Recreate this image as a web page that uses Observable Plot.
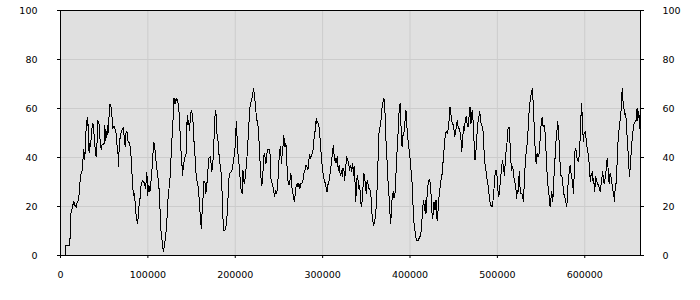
<!DOCTYPE html>
<html>
<head>
<meta charset="utf-8">
<script src="https://cdn.jsdelivr.net/npm/d3@7"></script>
<script src="https://cdn.jsdelivr.net/npm/@observablehq/plot@0.6"></script>
<style>
  html, body { margin: 0; padding: 0; background: #ffffff; }
  #chart { width: 700px; height: 300px; }
</style>
</head>
<body>
<div id="chart"></div>
<script>
const xTicks = [0, 100000, 200000, 300000, 400000, 500000, 600000];
const yTicks = [0, 20, 40, 60, 80, 100];
const xMax = 663800;

const xs = [
  5300, 6100, 9900, 10300, 11100, 11500, 12600, 14100, 15300, 16400, 17900, 18700, 20200, 21400, 22100, 23300, 24400, 25600, 26700, 27500,
  28200, 29000, 29800, 30500, 31300, 32100, 32800, 33600, 34400, 35100, 36300, 37000, 37800, 38600, 39700, 40800, 42000, 42700, 43900, 44700,
  45400, 46600, 47700, 48900, 50000, 50800, 51500, 52300, 53100, 53800, 54600, 55300, 56500, 57600, 58800, 59900, 61100, 62200, 63400, 64500,
  65700, 66400, 67200, 68300, 69500, 70600, 71800, 72900, 74000, 74800, 76000, 76700, 77900, 79000, 80200, 81300, 82400, 83600, 84700, 85900,
  87000, 88200, 88900, 90100, 90800, 91600, 92800, 93900, 95000, 96200, 97300, 98100, 98900, 99600, 100400, 101200, 102300, 103100, 104200, 105300,
  106100, 106900, 107600, 108800, 109900, 111100, 112200, 113400, 114500, 115700, 116800, 117900, 118700, 119500, 120600, 121800, 122900, 124000, 125200, 126300,
  127500, 128600, 129400, 130200, 130900, 131700, 132800, 134000, 135100, 136300, 137400, 138600, 139700, 140500, 141600, 142800, 143900, 145000, 145800, 146600,
  147700, 148900, 150000, 151200, 151900, 153100, 154200, 155300, 156500, 157600, 158800, 159900, 161100, 161800, 163000, 164100, 165300, 166400, 167200, 168300,
  169500, 170600, 171800, 172900, 174000, 174800, 176000, 177100, 178300, 179000, 180200, 181300, 182500, 183600, 184700, 185900, 187000, 188200, 189300, 190500,
  191600, 192800, 193900,
  196200, 198100, 199600, 200800, 201500, 202300, 203400, 204600, 205700, 206900, 208000, 208800, 209900, 210700, 211800, 213000, 214100, 215300, 216400, 217600,
  218700, 219800, 221000, 222100, 223300, 224400, 225600, 226700, 227900, 229000, 230200, 231300, 232400, 233200, 234400, 235100, 236300, 237400, 238600, 239700,
  240500, 241600, 242800, 243900, 245000, 246200, 247300, 248500, 249600, 250800, 251900, 252700, 253400, 254600, 255300, 256100, 256900, 258000, 259200, 260300,
  261500, 262600, 263700, 264500, 265700, 266800, 267600, 268700, 269800, 271000, 271800, 272900, 274000, 275200, 276300, 277500, 278600, 279800, 280900, 282100,
  283200, 284000, 285100, 286300, 287400, 288600, 289300, 290500, 291600, 292700, 293500, 294300, 295400, 296600, 297300, 298500, 299600, 300800, 301900, 303100,
  304200, 305000, 305700, 306900, 308000, 308800, 309900, 311100, 312200, 313000, 313700, 314500, 315300, 316000, 316800, 317900, 319100, 319900, 320600, 321800,
  322500, 323300, 324400, 325200, 326300, 327500, 328600, 329800, 330900, 332100, 333200, 334400, 335500, 336300, 337000, 337800, 338600, 339300, 340100, 341200,
  342400, 343100, 343900, 344700, 345800, 346600, 347300, 348100, 349200, 350000, 350800, 351500, 352300, 353100, 354200, 355400, 356100, 357300, 358400, 359500,
  360700, 361800, 362600, 363400, 364500, 365700, 366800, 367600, 368700, 369900, 370600, 371400, 372100, 372900, 373700, 374800, 375600, 376300, 377100, 377900,
  378600, 379400, 380200, 380900, 381700, 382800, 383600, 384700, 385500, 386600, 387400, 388600, 389300, 390100, 390900, 391600, 392800, 393900, 394700, 395400,
  396200, 397300, 398500, 399600, 400800, 401900, 403100, 403800, 405000, 406100, 407300, 409600, 410700, 411800, 413000, 414100, 415300, 416000, 416800, 417600,
  418300, 419100, 419900, 420600, 421400, 422200, 422900, 423700, 424400, 425200, 426000, 426700, 427500, 428600, 429800, 430500, 431300, 432100, 432800, 433600,
  434700, 435900, 437000, 438200, 439300, 440500, 441600, 442800, 443900, 445100, 445800, 446600, 447700, 448900, 450000, 451200, 452300, 453100, 454200, 455000,
  456100,
  457300, 458400, 459200, 460300, 461100, 462200, 463400, 464500, 465300, 466400, 467600, 468700, 469800, 470600, 471400, 472100, 472900, 473700, 474400, 475200,
  475900, 476700, 477500, 478600, 479800, 480900, 481700, 482800, 484000, 485100, 486300, 487400, 488500, 489700, 490800, 492000, 494300, 495400, 496600, 497700,
  498900, 500000, 501100, 502300, 503400, 504600, 505700, 506900, 508000, 509200, 509900, 511100, 512200, 513400, 514500, 515300, 516400, 517600, 518700, 519900,
  521000, 522100, 522900, 523700, 524400, 525200, 525900, 526700, 527900, 529000, 529800, 530900, 532100, 533200, 534400, 535500, 536600, 537800, 538900, 540100,
  540800, 542000, 543100, 544300, 545400, 546600, 547700, 548900, 550000, 551200, 552300, 553100, 553800, 555000, 556100, 557300, 558400, 559500, 560300, 561100,
  562200, 563400, 564500, 565700, 566800, 567900, 569100, 570200, 571400, 572500, 573700, 574800, 575900, 577100, 578300, 579400, 580200, 580900, 582100, 583200,
  584000, 585100, 586300, 587000, 587800, 588600, 589700, 590900, 591600, 592800, 593900, 595000, 596200, 597000, 597700, 598500, 599200, 600400, 601200, 601900,
  602700, 603800, 605000, 605700, 606500, 607300, 608000, 608800, 609600, 610300, 611100, 611800, 612600, 613800, 614500, 615700, 616800, 617600, 618300, 619500,
  620200, 621400, 622100, 623300, 624100, 624800, 625600, 626300, 627100, 627900, 629000, 629800, 630900, 632100, 633200, 634000, 634700, 635500, 636300, 637000,
  637800, 638600, 639700, 640500, 641600, 642400, 643100, 643900, 644700, 645400, 646200, 647000, 647700, 648500, 649300, 650000, 651200, 651900, 652700, 653400,
  654600, 655700, 656500, 657600, 658800, 659900, 660700, 661500, 662200, 663000, 663800
];

const ys = [
  0, 4.1, 4.1, 6.8, 6.8, 16.7, 18.2, 20.5, 22.2, 20.5, 19.6, 21.2, 22.2, 25.3, 29.4, 33.2, 33.5, 38.9, 43.3, 39.2,
  42.2, 49.1, 55.2, 53.2, 56.3, 45.7, 41.9, 45.7, 44.4, 47.8, 53.2, 54.1, 52.5, 48.4, 43.3, 40.3, 47.1, 55.0, 54.4, 50.5,
  46.4, 43.3, 45.4, 45.4, 45.7, 53.1, 47.1, 50.5, 48.2, 53.1, 50.1, 55.2, 61.8, 61.4, 57.3, 51.8, 52.8, 51.8, 50.5, 45.7,
  42.3, 36.5, 44.4, 48.4, 50.5, 51.2, 52.2, 48.4, 44.6, 49.8, 50.9, 47.1, 46.3, 46.0, 43.0, 37.6, 29.1, 24.6, 25.3, 18.8,
  15.1, 13.1, 15.8, 21.5, 21.9, 27.3, 29.4, 30.7, 30.1, 29.4, 27.3, 30.7, 34.1, 24.6, 26.7, 28.7, 26.0, 28.7, 32.1, 38.9,
  43.0, 46.0, 45.4, 40.3, 36.2, 33.5, 29.1, 25.3, 11.4, 8.3, 3.5, 1.5, 3.8, 5.6, 9.0, 14.4, 22.6, 26.7, 30.7, 38.2,
  47.1, 52.8, 64.1, 62.0, 64.1, 62.0, 64.1, 63.4, 61.0, 55.2, 45.0, 39.6, 32.8, 36.2, 38.9, 40.5, 41.6, 57.3, 53.2, 55.2,
  51.2, 58.0, 59.0, 57.3, 53.2, 44.4, 39.6, 32.1, 30.1, 28.0, 22.6, 16.5, 11.0, 15.8, 22.9, 30.1, 30.1, 25.3, 28.0, 32.1,
  39.6, 40.0, 40.3, 34.1, 36.2, 40.3, 49.8, 59.3, 57.3, 49.8, 47.1, 41.6, 37.6, 34.8, 28.0, 15.1, 10.3, 10.3, 11.7, 15.8,
  22.6, 31.4, 33.5,
  34.8, 38.9, 43.0, 51.8, 54.6, 45.7, 40.3, 36.2, 30.7, 26.0, 25.3, 34.8, 30.1, 29.4, 33.5, 37.6, 44.4, 51.2, 59.3, 62.0,
  63.4, 65.4, 68.2, 64.8, 60.7, 55.2, 55.2, 49.8, 42.3, 33.5, 28.7, 30.1, 40.3, 41.6, 39.6, 37.6, 41.6, 43.3, 43.3, 42.3,
  32.1, 30.1, 28.7, 26.7, 23.9, 26.7, 25.3, 28.0, 36.2, 43.0, 44.4, 37.6, 40.3, 44.4, 49.1, 47.1, 44.4, 45.7, 36.9, 30.7,
  28.7, 30.7, 33.5, 28.7, 26.0, 23.3, 21.9, 25.3, 28.7, 29.4, 28.0, 29.4, 27.3, 29.4, 29.4, 30.7, 33.5, 34.8, 36.9, 36.2,
  34.8, 38.2, 41.4, 39.6, 41.4, 41.6, 44.4, 49.1, 51.2, 55.9, 53.9, 54.6, 53.2, 51.2, 45.7, 41.0, 36.2, 32.8, 30.7, 29.4,
  27.3, 26.0, 28.7, 29.4, 32.1, 34.1, 37.6, 41.6, 45.0, 41.6, 38.9, 39.6, 37.6, 38.9, 40.3, 34.8, 36.9, 33.5, 32.8, 34.8,
  32.1, 35.5, 34.8, 30.7, 35.5, 40.3, 38.9, 37.6, 34.8, 36.9, 34.1, 37.6, 32.8, 36.2, 30.7, 21.9, 26.7, 31.4, 32.8, 27.3,
  28.7, 25.3, 21.2, 19.9, 25.3, 30.1, 33.5, 32.1, 28.0, 25.3, 30.1, 30.7, 28.0, 27.3, 26.7, 23.9, 18.5, 14.4, 12.4, 13.7,
  17.1, 21.9, 30.7, 38.9, 49.8, 52.5, 55.2, 59.3, 62.0, 64.1, 63.4, 58.0, 49.8, 44.4, 38.9, 30.7, 26.7, 22.6, 17.1, 13.1,
  17.1, 22.6, 24.6, 26.0, 23.3, 25.3, 31.4, 37.6, 45.7, 51.2, 58.0, 62.0, 56.6, 49.8, 44.4, 49.1, 49.1, 53.2, 56.6, 59.3,
  53.9, 48.4, 44.4, 41.6, 36.2, 32.1, 25.3, 15.8, 11.7, 9.0, 6.3, 6.3, 7.3, 7.9, 10.3, 17.1, 22.6, 21.2, 18.5, 22.6,
  17.1, 22.6, 25.3, 28.7, 30.7, 31.0, 30.1, 28.0, 22.6, 17.1, 15.1, 18.5, 21.9, 18.5, 22.6, 15.1, 14.4, 18.5, 22.6, 25.3,
  28.7, 32.1, 33.5, 40.3, 44.4, 49.8, 50.5, 49.8, 51.8, 56.6, 60.7, 58.6, 54.6, 53.9, 52.5, 48.4, 50.5, 53.2, 55.2, 52.5,
  51.8,
  50.5, 47.1, 42.3, 47.1, 52.5, 51.2, 55.9, 56.6, 53.9, 52.5, 56.6, 60.7, 53.9, 58.0, 59.3, 55.2, 48.4, 44.4, 38.9, 41.6,
  44.4, 49.8, 53.9, 55.9, 58.6, 55.2, 53.2, 52.5, 49.8, 38.9, 36.2, 33.5, 30.1, 28.0, 23.9, 20.5, 19.9, 23.9, 29.4, 34.8,
  34.8, 30.7, 23.9, 25.3, 30.7, 34.8, 38.9, 36.2, 32.8, 38.9, 42.3, 46.4, 51.8, 52.5, 45.7, 38.9, 34.8, 36.2, 32.1, 30.1,
  28.0, 23.3, 26.7, 26.0, 30.7, 34.1, 28.0, 25.3, 25.3, 23.9, 21.9, 30.7, 38.9, 43.0, 46.4, 53.9, 60.7, 64.1, 66.1, 68.2,
  63.4, 53.9, 44.4, 37.6, 41.6, 40.3, 41.6, 47.1, 53.2, 56.6, 52.5, 53.2, 53.2, 48.4, 38.9, 30.7, 26.7, 23.3, 19.9, 22.6,
  26.0, 21.9, 30.7, 37.6, 45.7, 49.8, 54.6, 49.8, 40.3, 32.8, 32.8, 29.4, 25.3, 23.9, 21.9, 19.9, 23.9, 29.4, 33.5, 36.9,
  34.1, 32.1, 28.7, 25.3, 32.1, 42.3, 43.7, 40.3, 38.9, 38.2, 41.6, 49.8, 62.0, 58.0, 51.2, 46.4, 49.8, 50.5, 48.4, 47.1,
  43.7, 41.6, 37.6, 33.5, 30.1, 33.5, 32.8, 34.1, 29.4, 31.4, 26.0, 28.0, 32.1, 30.1, 29.4, 28.7, 27.3, 26.0, 28.0, 30.7,
  34.1, 32.1, 29.4, 31.4, 33.5, 36.2, 39.6, 37.6, 33.5, 29.4, 33.5, 32.8, 30.1, 26.7, 25.3, 21.9, 26.7, 28.0, 32.1, 37.6,
  44.4, 49.8, 52.5, 55.2, 59.3, 66.1, 68.2, 62.0, 60.7, 58.6, 57.3, 58.0, 52.5, 48.4, 44.4, 38.9, 32.1, 35.5, 38.9, 44.4,
  48.4, 52.5, 53.9, 54.6, 55.2, 60.0, 55.2, 58.6, 57.3, 52.5, 49.8
];

const series = xs.map((x, i) => ({x, y: ys[i]}));

const chart = Plot.plot({
  width: 700,
  height: 300,
  marginLeft: 60,
  marginRight: 60,
  marginTop: 10,
  marginBottom: 45,
  style: {fontFamily: "DejaVu Sans", fontSize: "9.5px", color: "#000000", background: "#ffffff", overflow: "visible"},
  x: {domain: [0, xMax]},
  y: {domain: [0, 100]},
  marks: [
    Plot.frame({fill: "#e0e0e0", stroke: null}),
    Plot.gridX(xTicks, {stroke: "#cccccc", strokeOpacity: 1}),
    Plot.gridY(yTicks, {stroke: "#cccccc", strokeOpacity: 1}),
    Plot.line(series, {x: "x", y: "y", stroke: "#000000", strokeWidth: 1, shapeRendering: "crispEdges"}),
    Plot.frame({stroke: "#000000", strokeWidth: 1}),
    Plot.axisX(xTicks, {anchor: "bottom", tickSize: 3, tickPadding: 13, tickFormat: d3.format("d"), label: null, stroke: "#000000"}),
    Plot.axisY(yTicks, {anchor: "left", tickSize: 3, tickPadding: 20, label: null, stroke: "#000000"}),
    Plot.axisY(yTicks, {anchor: "right", tickSize: 3, tickPadding: 19, label: null, stroke: "#000000"})
  ]
});
document.getElementById("chart").appendChild(chart);
</script>
</body>
</html>
